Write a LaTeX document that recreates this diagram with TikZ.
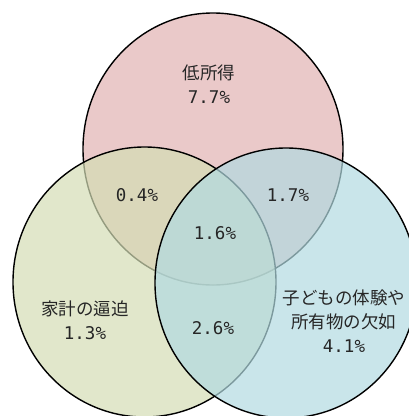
\documentclass[tikz,border=0pt]{standalone}
\usepackage{fontspec}
\setmainfont{Noto Sans CJK JP}
\newfontfamily\pctfont{DejaVu Sans Mono}
\usepackage{tikz}
\definecolor{lowinc}{RGB}{234,201,201}
\definecolor{budget}{RGB}{212,221,181}
\definecolor{lack}{RGB}{178,218,225}
\newcommand{\pct}[1]{{\pctfont #1}}
\tikzset{
  lbl/.style={align=center,font=\fontsize{17.5}{24}\selectfont,text=black!85,inner sep=0pt}
}

\begin{document}
\begin{tikzpicture}[x=1pt,y=-1pt]
    \useasboundingbox (0,0) rectangle (409,416);
    \begin{scope}
    \clip (0,0) rectangle (409,416);
    \filldraw[fill=lowinc,draw=black,line width=1.4pt] (213,149) ellipse (130 and 136);
    \fill[color=budget,opacity=0.7] (144.5,282) ellipse (131.5 and 135);
    \draw[line width=1.4pt] (144.5,282) ellipse (131.5 and 135);
    \fill[color=lack,opacity=0.7] (286,283) ellipse (131 and 135);
    \draw[line width=1.4pt] (286,283) ellipse (131 and 135);
    \end{scope}
    \node[lbl] (low) at (209,84) {低所得\\\pct{7.7\%}};
    \node[lbl] (lowbud) at (137,195) {\pct{0.4\%}};
    \node[lbl] (lowlack) at (288,195) {\pct{1.7\%}};
    \node[lbl] (all) at (215,233) {\pct{1.6\%}};
    \node[lbl] (bud) at (85,320) {家計の逼迫\\\pct{1.3\%}};
    \node[lbl] (budlack) at (213,328) {\pct{2.6\%}};
    \node[lbl] (lack) at (344,321) {子どもの体験や\\所有物の欠如\\\pct{4.1\%}};
  \end{tikzpicture}
\end{document}
